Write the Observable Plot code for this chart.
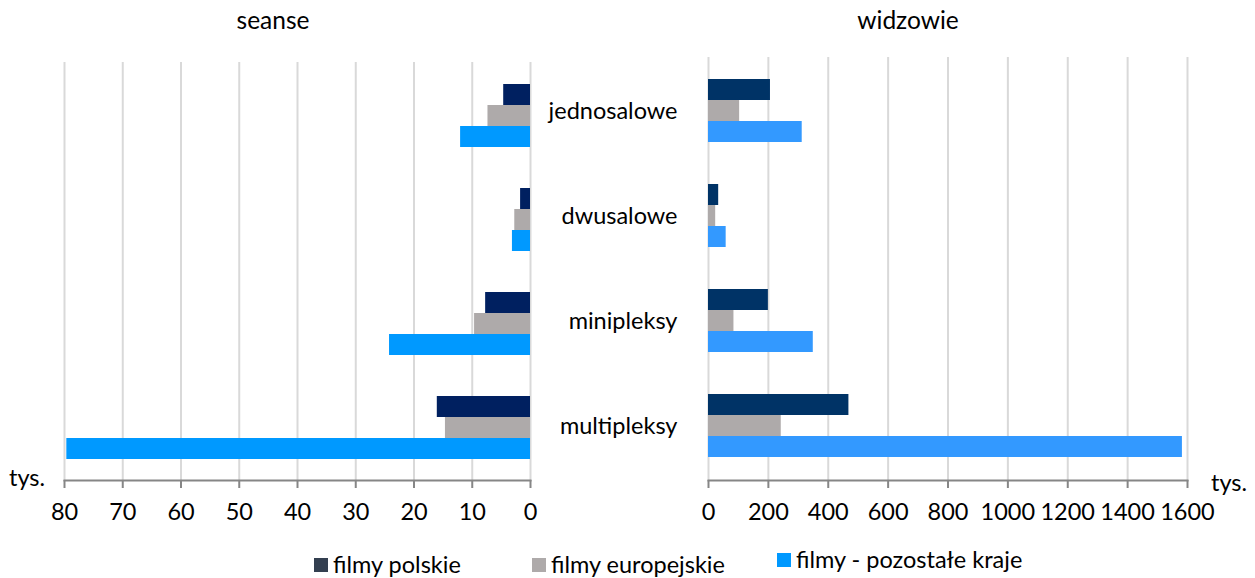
<!DOCTYPE html>
<html><head><meta charset="utf-8">
<script src="https://cdn.jsdelivr.net/npm/d3@7"></script>
<script src="https://cdn.jsdelivr.net/npm/@observablehq/plot@0.6"></script>
<style>
body{margin:0;background:#fff;font-family:Lato,"Noto Sans",sans-serif;}
#root{position:relative;width:1255px;height:578px;overflow:hidden;background:#fff;}
.layer{position:absolute;}
.t{position:absolute;font-size:23.5px;color:#000;white-space:nowrap;line-height:1;}
.title{font-size:24.5px;}
.ctr{transform:translateX(-50%);}
.sw{position:absolute;width:14px;height:14px;}
</style></head><body><div id="root"></div>
<script>
const categories = ["jednosalowe", "dwusalowe", "minipleksy", "multipleksy"];
const series = ["filmy polskie", "filmy europejskie", "filmy - pozostałe kraje"];

// seanse (tys.)
const seansePolskie = [4.6, 1.7, 7.7, 16.0];
const seanseEuropejskie = [7.3, 2.7, 9.6, 14.6];
const seansePozostale = [12.0, 3.1, 24.2, 79.6];

// widzowie (tys.)
const widzowiePolskie = [207, 34, 200, 469];
const widzowieEuropejskie = [104, 24, 85, 243];
const widzowiePozostale = [313, 59, 350, 1583];

const seanseTicks = [0, 10, 20, 30, 40, 50, 60, 70, 80];
const widzowieTicks = [0, 200, 400, 600, 800, 1000, 1200, 1400, 1600];

const seanseColors = ["#002060", "#aeaaaa", "#0099ff"];
const widzowieColors = ["#003366", "#aeaaaa", "#3399ff"];
const legendColors = ["#333f50", "#aeaaaa", "#0099ff"];

function rows(arrs) {
  const out = [];
  categories.forEach((c, i) => series.forEach((s, j) => out.push({cat: c, series: s, value: arrs[j][i]})));
  return out;
}
const seanseRows = rows([seansePolskie, seanseEuropejskie, seansePozostale]);
const widzowieRows = rows([widzowiePolskie, widzowieEuropejskie, widzowiePozostale]);

const root = document.getElementById("root");
const FS = 23.5;

function place(el, left, top) {
  el.classList.add("layer");
  el.style.left = left + "px";
  el.style.top = top + "px";
  root.appendChild(el);
}

function panel({left, width, height, marginLeft, marginRight, marginTop, marginBottom, domain, reverse, ticks, data, colors, showCats}) {
  const common = {width, height, marginLeft, marginRight, marginTop, marginBottom,
    style: {background: "transparent", maxWidth: "none", fontFamily: "Lato, sans-serif", overflow: "visible"}};
  const bg = Plot.plot({
    ...common,
    x: {domain, reverse},
    marks: [
      Plot.gridX(ticks, {stroke: "#d9d9d9", strokeWidth: 2, strokeOpacity: 1}),
      Plot.frame({anchor: "bottom", stroke: "#868686", strokeWidth: 2}),
      Plot.axisX(ticks, {anchor: "bottom", tickSize: 8, tickPadding: 15, fontSize: FS,
        stroke: "#868686", strokeWidth: 2, fill: "#000", label: null, tickFormat: d => String(d)})
    ]
  });
  const fg = Plot.plot({
    ...common,
    x: {domain, reverse, axis: null},
    y: {domain: series, padding: 0, axis: null},
    fy: {domain: categories, paddingInner: 0.378, paddingOuter: 0.19, ...(showCats ? {} : {axis: null})},
    color: {domain: series, range: colors},
    marks: [
      Plot.barX(data, {fy: "cat", y: "series", x: "value", fill: "series"}),
      ...(showCats ? [Plot.axisFy({anchor: "left", tickSize: 0, tickPadding: 31, fontSize: FS, fill: "#000", label: null})] : [])
    ]
  });
  place(bg, left, 0);
  place(fg, left, 0);
}

panel({left: 0, width: 560, height: 540, marginLeft: 64, marginRight: 30, marginTop: 62, marginBottom: 60,
  domain: [0, 80], reverse: true, ticks: seanseTicks, data: seanseRows, colors: seanseColors, showCats: false});
panel({left: 600, width: 655, height: 540, marginLeft: 108, marginRight: 68, marginTop: 57, marginBottom: 60,
  domain: [0, 1600], reverse: false, ticks: widzowieTicks, data: widzowieRows, colors: widzowieColors, showCats: true});

function text(str, x, y, cls) {
  const d = document.createElement("div");
  d.className = "t" + (cls ? " " + cls : "");
  d.textContent = str;
  d.style.left = x + "px";
  d.style.top = y + "px";
  root.appendChild(d);
}
text("seanse", 273, 8, "ctr title");
text("widzowie", 908, 8, "ctr title");
text("tys.", 9, 466);
text("tys.", 1211, 471);

const legendPos = [[314, 558, 333], [532, 558, 551], [777, 553, 796]];
series.forEach((s, i) => {
  const [sx, sy, tx] = legendPos[i];
  const sw = document.createElement("div");
  sw.className = "sw";
  sw.style.left = sx + "px"; sw.style.top = sy + "px"; sw.style.background = legendColors[i];
  root.appendChild(sw);
  text(s, tx, sy - 5);
});
</script></body></html>
